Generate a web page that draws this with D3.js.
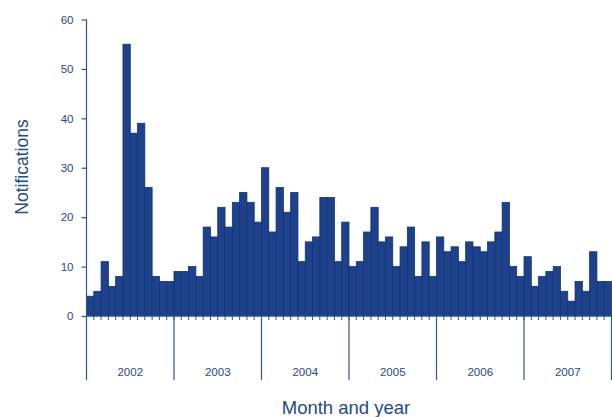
<!DOCTYPE html>
<html>
<head>
<meta charset="utf-8">
<script src="https://cdn.jsdelivr.net/npm/d3@7"></script>
<style>
  html, body { margin: 0; padding: 0; background: #fff; }
  svg { display: block; font-family: "Liberation Sans", Arial, sans-serif; }
</style>
</head>
<body>
<svg id="chart" width="612" height="417"></svg>
<script>
// Monthly notifications, January 2002 to December 2007
const years = ["2002", "2003", "2004", "2005", "2006", "2007"];
const notifications2002 = [4, 5, 11, 6, 8, 55, 37, 39, 26, 8, 7, 7];
const notifications2003 = [9, 9, 10, 8, 18, 16, 22, 18, 23, 25, 23, 19];
const notifications2004 = [30, 17, 26, 21, 25, 11, 15, 16, 24, 24, 11, 19];
const notifications2005 = [10, 11, 17, 22, 15, 16, 10, 14, 18, 8, 15, 8];
const notifications2006 = [16, 13, 14, 11, 15, 14, 13, 15, 17, 23, 10, 8];
const notifications2007 = [12, 6, 8, 9, 10, 5, 3, 7, 5, 13, 7, 7];
const yTicks = [0, 10, 20, 30, 40, 50, 60];

const series = [notifications2002, notifications2003, notifications2004,
                notifications2005, notifications2006, notifications2007];
const data = [];
series.forEach((vals, yi) => vals.forEach((v, m) => data.push({ year: years[yi], month: m, idx: yi * 12 + m, value: v })));

const plotLeft = 86.5, plotRight = 611.5, plotTop = 19.5, plotBase = 316, bandBottom = 380;
const axisColor = "#2f5597";
const textColor = "#24498c";

const svg = d3.select("#chart");

const x = d3.scaleBand().domain(data.map(d => d.idx)).range([plotLeft, plotRight]).padding(0);
const y = d3.scaleLinear().domain([0, 60]).range([plotBase, plotTop]);
const xYear = d3.scaleBand().domain(years).range([plotLeft, plotRight]).padding(0);

// bars
svg.append("g").selectAll("rect").data(data).join("rect")
  .attr("x", d => x(d.idx))
  .attr("y", d => y(d.value))
  .attr("width", x.bandwidth())
  .attr("height", d => y(0) - y(d.value))
  .attr("fill", "#1f418b")
  .attr("stroke", "#0c3679")
  .attr("stroke-width", 0.8);

// y axis
const yAxis = svg.append("g")
  .attr("transform", `translate(${plotLeft},0)`)
  .call(d3.axisLeft(y).tickValues(yTicks).tickSize(5).tickPadding(8).tickFormat(d3.format("d")));
yAxis.select(".domain").remove();
yAxis.selectAll(".tick line").attr("stroke", axisColor).attr("stroke-width", 1.2);
yAxis.selectAll(".tick text")
  .attr("fill", textColor)
  .style("font-size", "11.5px")
  .style("font-family", "'Liberation Sans', Arial, sans-serif");

// vertical axis line, extended down through the year band
svg.append("line")
  .attr("x1", plotLeft).attr("x2", plotLeft)
  .attr("y1", plotTop).attr("y2", bandBottom)
  .attr("stroke", axisColor).attr("stroke-width", 1.2);

// baseline
svg.append("line")
  .attr("x1", plotLeft).attr("x2", plotRight)
  .attr("y1", plotBase).attr("y2", plotBase)
  .attr("stroke", axisColor).attr("stroke-width", 1);

// month ticks
svg.append("g").selectAll("line").data(data.slice(1)).join("line")
  .attr("x1", d => x(d.idx)).attr("x2", d => x(d.idx))
  .attr("y1", plotBase).attr("y2", plotBase + 4)
  .attr("stroke", axisColor).attr("stroke-width", 1);

// year separators
const sepX = years.slice(1).map(d => xYear(d)).concat([plotRight]);
svg.append("g").selectAll("line").data(sepX).join("line")
  .attr("x1", d => d).attr("x2", d => d)
  .attr("y1", plotBase).attr("y2", bandBottom)
  .attr("stroke", axisColor).attr("stroke-width", 1.2);

// year labels
svg.append("g").selectAll("text").data(years).join("text")
  .attr("x", d => xYear(d) + xYear.bandwidth() / 2)
  .attr("y", 376)
  .attr("text-anchor", "middle")
  .attr("fill", textColor)
  .style("font-size", "11.5px")
  .text(d => d);

// axis titles
svg.append("text")
  .attr("x", 346).attr("y", 414)
  .attr("text-anchor", "middle")
  .attr("fill", textColor)
  .style("font-size", "18.5px")
  .text("Month and year");

svg.append("text")
  .attr("transform", "translate(28,167) rotate(-90)")
  .attr("text-anchor", "middle")
  .attr("fill", textColor)
  .style("font-size", "17.5px")
  .text("Notifications");
</script>
</body>
</html>
